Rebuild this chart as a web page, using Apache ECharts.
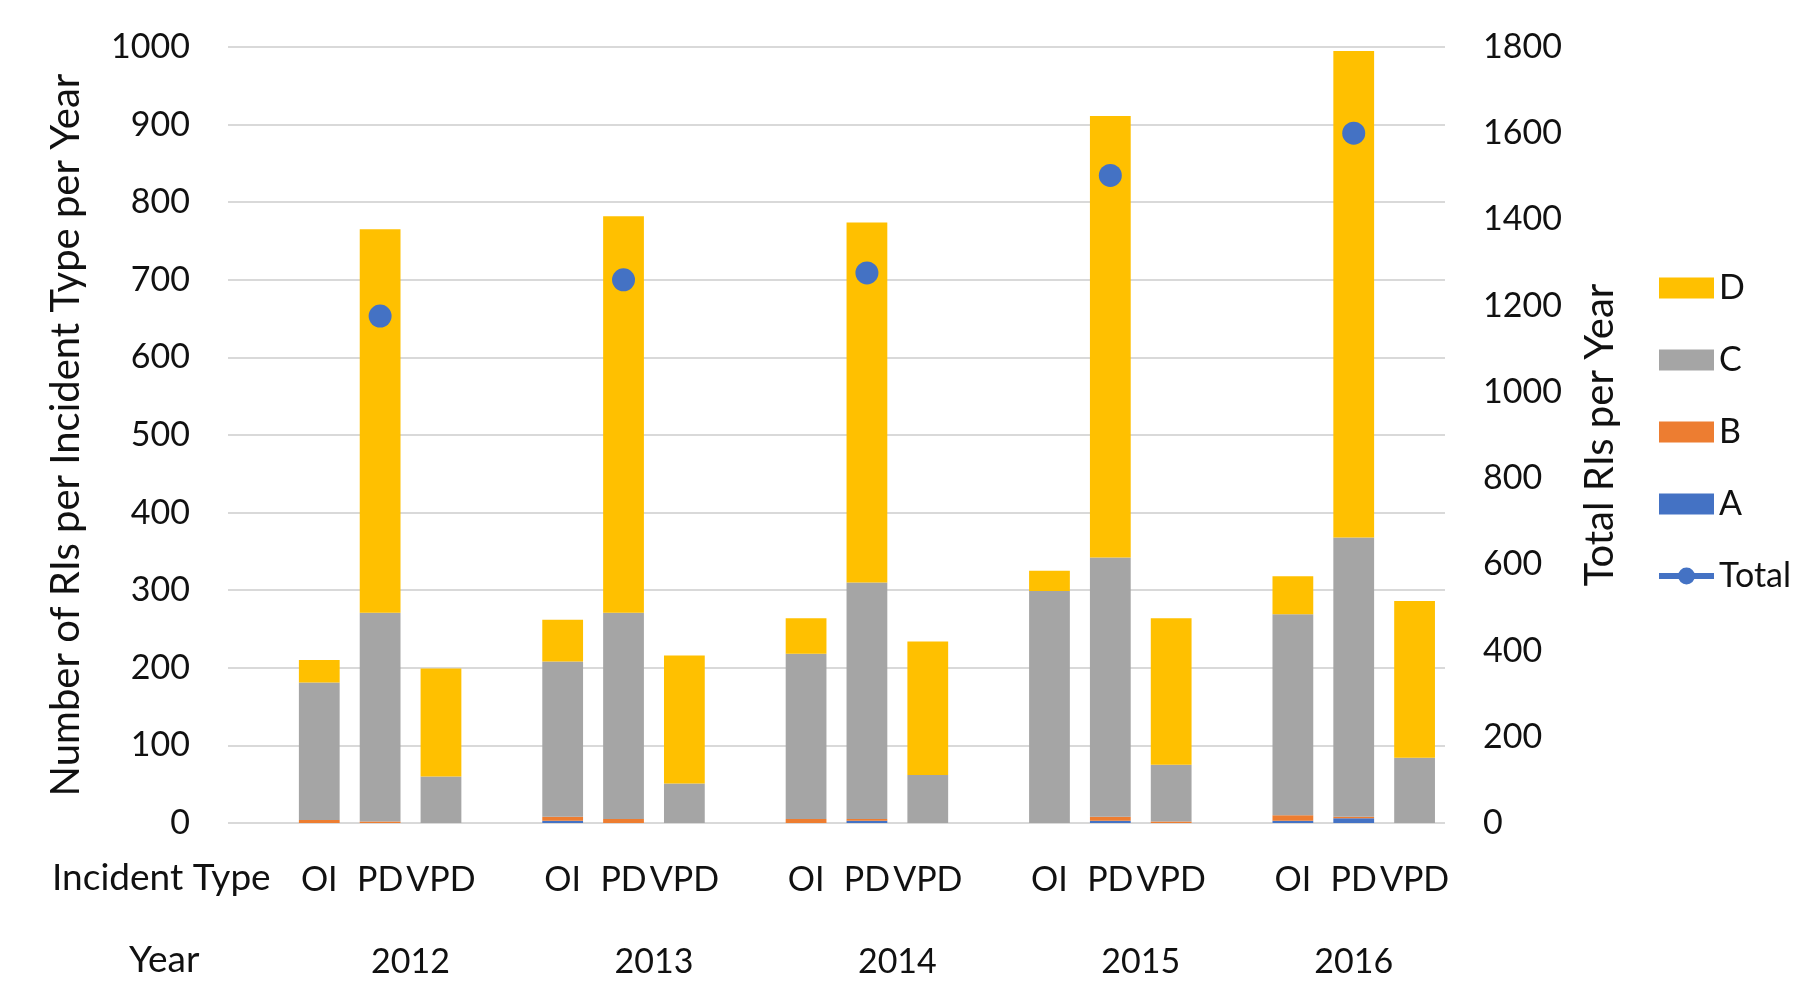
<!DOCTYPE html>
<html><head><meta charset="utf-8">
<script src="https://cdn.jsdelivr.net/npm/echarts@6/dist/echarts.min.js"></script>
<style>html,body{margin:0;padding:0;background:#fff}#c{width:1805px;height:989px}</style>
</head><body><div id="c"></div>
<script>
// ---- data (per year, order: OI, PD, VPD) ----
const years = ['2012', '2013', '2014', '2015', '2016'];
const incidentTypes = ['OI', 'PD', 'VPD'];
const seriesA = [[0, 0, 0], [3, 0, 0], [0, 3, 0], [0, 3, 0], [3, 6, 0]];
const seriesB = [[4, 2, 0], [5, 5, 0], [5, 2, 0], [0, 5, 2], [7, 2, 0]];
const seriesC = [[177, 269, 60], [200, 266, 51], [213, 305, 62], [299, 334, 73], [259, 360, 84]];
const seriesD = [[29, 494, 139], [54, 511, 165], [46, 464, 172], [26, 569, 189], [49, 627, 202]];
const totals = [1176, 1260, 1276, 1502, 1600];
const leftTicks = { min: 0, max: 1000, step: 100 };
const rightTicks = { min: 0, max: 1800, step: 200 };

// ---- build category axis: leading blank, groups separated by blanks ----
const categories = [''];
const groups = [];
years.forEach((y, i) => {
  const start = categories.length;
  incidentTypes.forEach(t => categories.push(t));
  if (i < years.length - 1) categories.push('');
  groups.push({ year: y, start: start, len: categories.length - start });
});
function flatten(arr) {
  const out = categories.map(() => null);
  groups.forEach((g, gi) => arr[gi].forEach((v, ti) => { out[g.start + ti] = v; }));
  return out;
}
const totalData = categories.map(() => null);
groups.forEach((g, gi) => { totalData[g.start + 1] = totals[gi]; });
const yearLabelAt = {};
groups.forEach(g => { yearLabelAt[Math.round((g.start + g.len / 2) * 2)] = g.year; });

const FONT = 'Lato';
const FS = 34;
const TFS = 40;
const TXT = '#111';
const chart = echarts.init(document.getElementById('c'), null, { renderer: 'canvas' });
const barCommon = { type: 'bar', stack: 'rt', barWidth: '67%', xAxisIndex: 0, yAxisIndex: 0 };
chart.setOption({
  animation: false,
  textStyle: { fontFamily: FONT },
  grid: { left: 228, right: 360, top: 47, bottom: 166 },
  legend: {
    orient: 'vertical', left: 1651, top: 266,
    itemWidth: 55, itemHeight: 21, itemGap: 38,
    textStyle: { fontSize: FS, color: TXT, fontFamily: FONT },
    data: [
      { name: 'D', icon: 'rect' }, { name: 'C', icon: 'rect' },
      { name: 'B', icon: 'rect' }, { name: 'A', icon: 'rect' },
      { name: 'Total', lineStyle: { width: 6, color: '#4472C4' } }
    ]
  },
  xAxis: [
    {
      type: 'category', data: categories,
      axisLine: { show: false }, axisTick: { show: false },
      axisLabel: { interval: 0, fontSize: FS, color: TXT, margin: 40, fontFamily: FONT }
    },
    {
      type: 'value', min: 0, max: categories.length, interval: 0.5, position: 'bottom',
      axisLine: { show: false }, axisTick: { show: false }, splitLine: { show: false },
      axisLabel: {
        fontSize: FS, color: TXT, margin: 122, fontFamily: FONT,
        showMinLabel: true, showMaxLabel: true,
        formatter: v => yearLabelAt[Math.round(v * 2)] || ''
      }
    }
  ],
  yAxis: [
    {
      type: 'value', min: leftTicks.min, max: leftTicks.max, interval: leftTicks.step,
      name: 'Number of RIs per Incident Type per Year', nameLocation: 'middle', nameGap: 142, nameRotate: 90,
      nameTextStyle: { fontSize: TFS, color: TXT, fontFamily: FONT },
      axisLine: { show: false }, axisTick: { show: false },
      axisLabel: { fontSize: FS, color: TXT, margin: 38, fontFamily: FONT, formatter: v => String(v) },
      splitLine: { lineStyle: { color: '#d9d9d9', width: 2 } }
    },
    {
      type: 'value', min: rightTicks.min, max: rightTicks.max, interval: rightTicks.step, position: 'right',
      name: 'Total RIs per Year', nameLocation: 'middle', nameGap: 135, nameRotate: 90,
      nameTextStyle: { fontSize: TFS, color: TXT, fontFamily: FONT },
      axisLine: { show: false }, axisTick: { show: false },
      axisLabel: { fontSize: FS, color: TXT, margin: 38, fontFamily: FONT, formatter: v => String(v) },
      splitLine: { show: false }
    }
  ],
  series: [
    Object.assign({ name: 'A', data: flatten(seriesA), itemStyle: { color: '#4472C4' } }, barCommon),
    Object.assign({ name: 'B', data: flatten(seriesB), itemStyle: { color: '#ED7D31' } }, barCommon),
    Object.assign({ name: 'C', data: flatten(seriesC), itemStyle: { color: '#A5A5A5' } }, barCommon),
    Object.assign({ name: 'D', data: flatten(seriesD), itemStyle: { color: '#FFC000' } }, barCommon),
    {
      name: 'Total', type: 'line', xAxisIndex: 0, yAxisIndex: 1, data: totalData,
      connectNulls: false, symbol: 'circle', symbolSize: 23, z: 10,
      lineStyle: { color: '#4472C4', width: 6 }, itemStyle: { color: '#4472C4' }
    }
  ],
  graphic: [
    { type: 'text', left: 52, top: 860, style: { text: 'Incident Type', fontSize: 37, fill: TXT, fontFamily: FONT } },
    { type: 'text', left: 129, top: 942, style: { text: 'Year', fontSize: 37, fill: TXT, fontFamily: FONT } }
  ]
});
</script></body></html>
